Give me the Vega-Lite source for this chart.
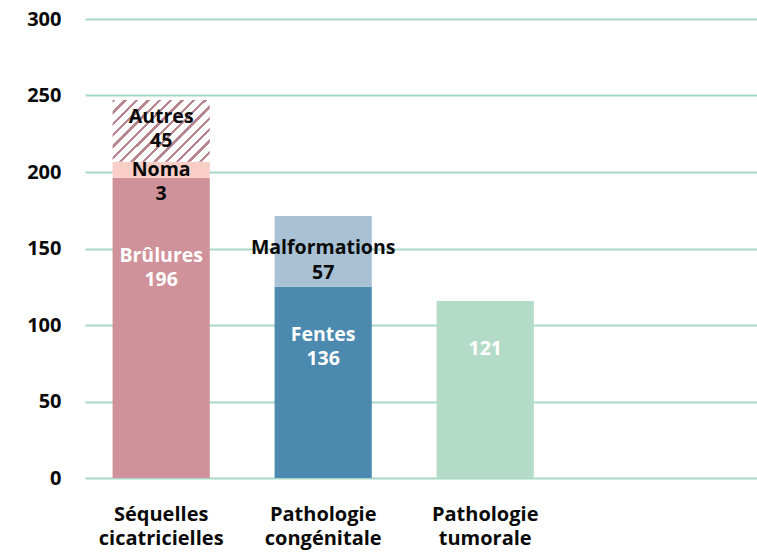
{
  "$schema": "https://vega.github.io/schema/vega-lite/v6.json",
  "width": 672,
  "height": 459,
  "autosize": {"type": "none"},
  "padding": {"left": 85, "top": 19, "right": 0, "bottom": 74},
  "background": "white",
  "config": {
    "view": {"stroke": null},
    "font": "Open Sans",
    "axis": {"labelFont": "Open Sans", "labelFontWeight": "bold", "labelFontSize": 20, "labelColor": "#0a0a0a"}
  },
  "data": {
    "values": [
      {"cat": "Séquelles cicatricielles", "seg": "Brûlures", "ord": 1, "v": 196.3, "lab": "Brûlures\n196"},
      {"cat": "Séquelles cicatricielles", "seg": "Noma", "ord": 2, "v": 10.4, "lab": "Noma\n3"},
      {"cat": "Séquelles cicatricielles", "seg": "Autres", "ord": 3, "v": 40.4, "lab": "Autres\n45"},
      {"cat": "Pathologie congénitale", "seg": "Fentes", "ord": 1, "v": 125.0, "lab": "Fentes\n136"},
      {"cat": "Pathologie congénitale", "seg": "Malformations", "ord": 2, "v": 46.2, "lab": "Malformations\n57"},
      {"cat": "Pathologie tumorale", "seg": "Tumorale", "ord": 1, "v": 115.7, "lab": "121"}
    ]
  },
  "transform": [
    {"stack": "v", "groupby": ["cat"], "sort": [{"field": "ord", "order": "ascending"}], "as": ["y0", "y1"]}
  ],
  "encoding": {
    "x": {
      "field": "cat", "type": "nominal",
      "sort": ["Séquelles cicatricielles", "Pathologie congénitale", "Pathologie tumorale"],
      "scale": {"paddingInner": 0.4, "paddingOuter": 0.774, "align": 0.11},
      "axis": {"title": null, "labelAngle": 0, "domain": false, "ticks": false, "labelPadding": 26, "labelLineHeight": 24.5, "labelExpr": "split(datum.label, ' ')", "labelBaseline": "top"}
    }
  },
  "layer": [
    {
      "transform": [{"filter": "datum.seg !== 'Autres'"}],
      "mark": {"type": "bar"},
      "encoding": {
        "y": {
          "field": "y0", "type": "quantitative",
          "scale": {"domain": [0, 300], "nice": false},
          "axis": {"title": null, "values": [0, 50, 100, 150, 200, 250, 300], "domain": false, "ticks": false, "labelPadding": 24, "gridColor": "#A8D8C8", "gridWidth": 2, "gridOpacity": 1}
        },
        "y2": {"field": "y1"},
        "fill": {
          "field": "seg", "type": "nominal", "legend": null,
          "scale": {
            "domain": ["Brûlures", "Noma", "Fentes", "Malformations", "Tumorale"],
            "range": ["#D0929A", "#F8CEC7", "#4B89AF", "#A8C1D5", "#B3DBC8"]
          }
        }
      }
    },
    {
      "transform": [{"filter": "datum.seg === 'Autres'"}],
      "mark": {
        "type": "bar",
        "fill": {
          "gradient": "linear", "x1": 0, "y1": 0, "x2": 1.164, "y2": 0.744,
          "stops": [
            {"offset": 0.0000, "color": "#B8868F"}, {"offset": 0.0214, "color": "#B8868F"}, {"offset": 0.0214, "color": "#FFFFFF"}, {"offset": 0.0714, "color": "#FFFFFF"},
            {"offset": 0.0714, "color": "#B8868F"}, {"offset": 0.0929, "color": "#B8868F"}, {"offset": 0.0929, "color": "#FFFFFF"}, {"offset": 0.1429, "color": "#FFFFFF"},
            {"offset": 0.1429, "color": "#B8868F"}, {"offset": 0.1643, "color": "#B8868F"}, {"offset": 0.1643, "color": "#FFFFFF"}, {"offset": 0.2143, "color": "#FFFFFF"},
            {"offset": 0.2143, "color": "#B8868F"}, {"offset": 0.2357, "color": "#B8868F"}, {"offset": 0.2357, "color": "#FFFFFF"}, {"offset": 0.2857, "color": "#FFFFFF"},
            {"offset": 0.2857, "color": "#B8868F"}, {"offset": 0.3071, "color": "#B8868F"}, {"offset": 0.3071, "color": "#FFFFFF"}, {"offset": 0.3571, "color": "#FFFFFF"},
            {"offset": 0.3571, "color": "#B8868F"}, {"offset": 0.3786, "color": "#B8868F"}, {"offset": 0.3786, "color": "#FFFFFF"}, {"offset": 0.4286, "color": "#FFFFFF"},
            {"offset": 0.4286, "color": "#B8868F"}, {"offset": 0.4500, "color": "#B8868F"}, {"offset": 0.4500, "color": "#FFFFFF"}, {"offset": 0.5000, "color": "#FFFFFF"},
            {"offset": 0.5000, "color": "#B8868F"}, {"offset": 0.5214, "color": "#B8868F"}, {"offset": 0.5214, "color": "#FFFFFF"}, {"offset": 0.5714, "color": "#FFFFFF"},
            {"offset": 0.5714, "color": "#B8868F"}, {"offset": 0.5929, "color": "#B8868F"}, {"offset": 0.5929, "color": "#FFFFFF"}, {"offset": 0.6429, "color": "#FFFFFF"},
            {"offset": 0.6429, "color": "#B8868F"}, {"offset": 0.6643, "color": "#B8868F"}, {"offset": 0.6643, "color": "#FFFFFF"}, {"offset": 0.7143, "color": "#FFFFFF"},
            {"offset": 0.7143, "color": "#B8868F"}, {"offset": 0.7357, "color": "#B8868F"}, {"offset": 0.7357, "color": "#FFFFFF"}, {"offset": 0.7857, "color": "#FFFFFF"},
            {"offset": 0.7857, "color": "#B8868F"}, {"offset": 0.8071, "color": "#B8868F"}, {"offset": 0.8071, "color": "#FFFFFF"}, {"offset": 0.8571, "color": "#FFFFFF"},
            {"offset": 0.8571, "color": "#B8868F"}, {"offset": 0.8786, "color": "#B8868F"}, {"offset": 0.8786, "color": "#FFFFFF"}, {"offset": 0.9286, "color": "#FFFFFF"},
            {"offset": 0.9286, "color": "#B8868F"}, {"offset": 0.9500, "color": "#B8868F"}, {"offset": 0.9500, "color": "#FFFFFF"}, {"offset": 1.0000, "color": "#FFFFFF"}
          ]
        }
      },
      "encoding": {
        "y": {"field": "y0", "type": "quantitative"},
        "y2": {"field": "y1"}
      }
    },
    {
      "transform": [{"filter": "datum.seg === 'Brûlures'"}],
      "mark": {"type": "text", "lineBreak": "\n", "fontSize": 19.5, "fontWeight": "bold", "lineHeight": 24.5, "baseline": "middle", "align": "center", "dy": 78, "color": "white"},
      "encoding": {"y": {"field": "y1", "type": "quantitative"}, "text": {"field": "lab"}}
    },
    {
      "transform": [{"filter": "datum.seg === 'Noma'"}],
      "mark": {"type": "text", "lineBreak": "\n", "fontSize": 19.5, "fontWeight": "bold", "lineHeight": 24.5, "baseline": "middle", "align": "center", "dy": 8, "color": "#0a0a0a"},
      "encoding": {"y": {"field": "y1", "type": "quantitative"}, "text": {"field": "lab"}}
    },
    {
      "transform": [{"filter": "datum.seg === 'Autres'"}],
      "mark": {"type": "text", "lineBreak": "\n", "fontSize": 19.5, "fontWeight": "bold", "lineHeight": 24.5, "baseline": "middle", "align": "center", "dy": 17, "color": "#0a0a0a"},
      "encoding": {"y": {"field": "y1", "type": "quantitative"}, "text": {"field": "lab"}}
    },
    {
      "transform": [{"filter": "datum.seg === 'Fentes'"}],
      "mark": {"type": "text", "lineBreak": "\n", "fontSize": 19.5, "fontWeight": "bold", "lineHeight": 24.5, "baseline": "middle", "align": "center", "dy": 48, "color": "white"},
      "encoding": {"y": {"field": "y1", "type": "quantitative"}, "text": {"field": "lab"}}
    },
    {
      "transform": [{"filter": "datum.seg === 'Malformations'"}],
      "mark": {"type": "text", "lineBreak": "\n", "fontSize": 19.5, "fontWeight": "bold", "lineHeight": 24.5, "baseline": "middle", "align": "center", "dy": 32, "color": "#0a0a0a"},
      "encoding": {"y": {"field": "y1", "type": "quantitative"}, "text": {"field": "lab"}}
    },
    {
      "transform": [{"filter": "datum.seg === 'Tumorale'"}],
      "mark": {"type": "text", "lineBreak": "\n", "fontSize": 19.5, "fontWeight": "bold", "lineHeight": 24.5, "baseline": "middle", "align": "center", "dy": 48, "color": "white"},
      "encoding": {"y": {"field": "y1", "type": "quantitative"}, "text": {"field": "lab"}}
    }
  ]
}
